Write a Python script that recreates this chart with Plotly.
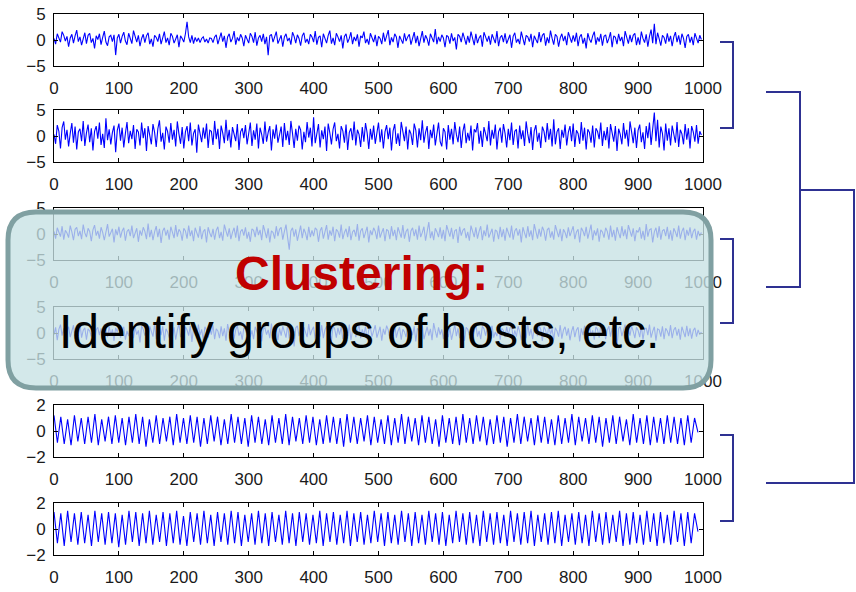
import plotly.graph_objects as go

# ---------------- data ----------------
noise_step = 2.5      # sample spacing of the noisy series
osc_step = 5.25       # spacing between extrema of the oscillating series

s1 = [0.3,-0.8,1.2,0.5,-0.4,1.6,0.9,-0.2,0.7,-1.3,0.4,1.1,-0.6,0.8,1.9,-0.3,0.6,-1.0,0.2,1.4,
      -0.7,0.9,1.3,-0.5,0.3,-1.6,0.8,0.1,1.2,-0.9,0.5,1.7,-0.4,-1.1,0.6,0.9,-0.3,1.0,-2.9,0.4,
      1.1,-0.6,0.7,1.5,-0.2,-0.9,1.3,0.4,-0.7,1.8,0.6,-0.4,0.9,-1.2,0.3,1.1,-0.5,0.8,1.4,-0.8,
      0.2,-1.3,0.9,0.5,-0.3,1.2,-0.8,0.6,1.6,-0.5,0.4,-1.0,1.3,0.7,-0.6,0.2,1.0,-1.4,0.8,0.3,
      -0.4,1.2,3.5,0.6,-0.5,0.9,-0.7,0.5,-0.3,0.4,-0.5,0.3,0.6,-0.4,0.2,-0.6,0.4,0.3,-0.5,0.6,
      1.0,-0.8,0.5,1.4,-0.3,0.8,-1.5,0.6,1.2,-0.4,0.3,1.7,-0.9,0.5,-0.2,1.1,0.4,-1.2,0.9,0.2,
      -0.6,1.3,0.7,-0.5,1.5,-1.1,0.4,0.9,-0.3,1.2,-0.8,0.6,-2.9,0.8,1.1,-0.4,0.5,1.6,-0.7,0.3,
      0.9,-1.3,0.6,1.2,-0.2,0.4,-0.9,1.5,0.7,-0.6,1.0,0.3,-1.1,0.8,1.4,-0.5,0.2,-0.8,1.1,0.6,
      -0.4,1.7,-0.9,0.5,0.8,-1.4,1.2,0.3,-0.6,0.9,1.8,-0.7,0.4,-1.0,1.3,0.6,-0.3,0.9,-1.6,0.7,
      1.2,-0.5,0.3,1.5,-0.8,0.6,-0.2,1.1,-1.3,0.8,0.4,1.6,-0.6,0.2,-0.9,1.3,0.5,-0.4,1.0,-1.2,
      0.7,0.3,-0.8,1.4,-0.3,0.9,1.9,-1.0,0.5,-0.4,1.2,0.6,-1.5,0.8,0.2,-0.7,1.3,-0.2,0.6,1.1,
      -0.9,0.4,1.5,-0.6,0.8,-1.2,0.3,1.7,-0.5,0.9,0.2,-1.1,1.2,0.5,-0.4,2.1,-0.8,0.6,-0.3,1.0,
      0.4,-1.4,0.9,0.6,-0.7,1.3,-0.2,0.5,-1.8,1.1,0.7,-0.4,1.4,0.3,-0.9,0.8,-0.5,1.6,0.2,-1.0,
      1.2,-0.6,0.4,0.9,-1.3,1.5,0.6,-0.3,0.8,-0.9,1.1,0.2,-0.6,1.7,-1.2,0.5,0.9,-0.4,1.3,-0.7,
      0.3,1.0,-1.5,0.7,1.4,-0.5,0.2,-0.8,1.6,0.4,-1.0,0.9,0.6,-0.3,1.2,-1.4,0.8,0.1,-0.6,1.5,
      -0.4,0.9,1.3,-1.1,0.5,-0.6,1.8,0.3,-0.9,1.1,0.7,-1.3,0.4,1.2,-0.2,0.8,-1.0,1.5,0.6,-0.5,
      0.9,-0.3,1.4,-1.2,0.6,1.1,-0.7,0.4,-1.6,1.3,0.2,-0.5,0.8,1.6,-0.9,0.5,-0.3,1.2,-1.1,0.7,
      1.0,-0.6,0.3,1.5,-1.4,0.8,0.5,-0.8,1.2,-0.2,0.6,-1.2,1.7,0.4,-0.7,1.0,-0.4,0.9,1.3,-1.0,
      0.5,-0.9,1.6,0.3,-0.5,1.1,-1.3,0.7,2.0,-0.6,3.1,-0.8,1.4,0.2,-1.1,0.9,0.5,-0.7,1.3,-0.3,
      0.8,-1.2,0.6,1.5,-0.4,0.9,-0.9,1.2,0.3,-1.5,0.7,1.1,-0.5,0.6,-1.0,1.3,0.4,-0.6,0.9,0.1]

s2 = [0.3,-1.5,2.1,0.9,-2.4,1.6,2.8,-0.7,1.2,-2.0,0.5,2.5,-1.3,1.8,-2.6,0.8,1.4,-1.0,2.9,-1.9,
      0.6,2.2,-1.2,1.5,-2.8,0.9,1.9,-0.5,2.6,-1.7,0.4,-2.3,3.4,-0.8,1.3,-1.6,0.7,2.0,-3.1,1.1,
      2.4,-0.9,1.6,-2.2,0.5,2.7,-1.4,1.0,-0.6,2.1,-2.5,1.3,0.8,-1.8,2.6,-0.4,1.5,-2.9,1.9,0.3,
      -1.6,2.3,0.7,-2.1,1.4,3.0,-1.1,0.6,-2.6,1.8,0.9,-1.3,2.5,-0.7,1.2,-2.0,2.8,0.4,-1.5,1.7,
      -2.4,0.8,1.9,-1.0,2.6,-1.8,0.5,1.3,-3.2,2.2,0.7,-1.2,1.6,-0.5,2.4,-2.3,1.1,0.9,-1.7,2.9,
      -0.6,1.4,-2.5,2.0,0.6,-1.4,3.1,-0.9,1.2,-2.2,1.7,0.4,-1.0,2.3,-2.7,0.8,1.5,-0.4,2.1,-1.6,
      0.9,2.6,-1.9,1.1,-0.7,2.4,-2.4,1.6,0.3,-1.5,2.8,-1.1,0.7,1.9,-2.8,1.3,-0.5,2.2,-1.3,0.6,
      1.8,-2.1,2.5,-0.8,1.0,-1.7,2.9,0.5,-2.3,1.4,-0.9,2.0,1.2,-2.6,0.8,-1.2,2.7,-0.3,1.6,-2.0,
      3.6,-1.4,0.9,2.3,-2.2,1.1,-0.6,1.8,-2.9,2.4,0.6,-1.6,1.3,2.6,-1.0,0.4,-2.4,1.9,1.0,-1.3,
      2.2,-2.7,0.7,1.5,-0.8,2.8,-1.8,1.2,0.3,-2.1,1.7,-1.1,2.5,0.6,-2.5,1.4,-0.7,2.0,-1.5,0.9,
      2.6,-1.2,1.3,-2.4,0.8,2.1,-0.6,1.6,-2.8,1.0,2.3,-1.5,0.5,-1.9,2.7,0.9,-1.0,1.8,-2.6,1.2,
      0.4,-1.7,2.4,1.1,-2.2,1.5,-0.8,3.0,-1.3,0.7,1.9,-2.5,1.2,-0.4,2.2,-1.8,0.6,2.6,-1.1,-2.0,
      1.5,0.8,-2.6,2.1,-0.7,1.4,-1.6,2.7,0.3,-1.2,1.8,-2.3,0.9,2.4,-1.4,0.6,-0.9,2.0,-2.8,1.3,
      0.7,2.5,-1.5,1.0,-2.1,1.7,0.4,-1.0,2.9,-1.8,1.2,-0.5,2.2,-2.6,0.8,1.6,-1.3,2.3,0.5,-2.2,
      1.4,-0.8,2.6,-1.7,0.9,1.3,-2.4,2.0,-0.6,1.1,-1.9,2.8,0.4,-1.4,1.7,-2.7,1.0,2.1,-1.1,0.6,
      -2.3,1.8,0.9,-1.2,2.5,-0.7,1.4,-2.0,3.2,-1.6,0.8,1.5,-2.5,1.2,-0.3,2.2,-1.8,0.7,1.9,-1.0,
      2.4,-2.1,1.1,0.5,-1.5,2.7,-0.9,1.6,-2.6,1.3,0.7,-1.3,2.0,-2.2,1.5,0.9,-0.6,2.6,-1.9,1.0,
      -0.8,1.7,-2.4,2.3,0.6,-1.1,1.9,-2.9,1.4,0.3,-1.6,2.5,-0.5,1.2,-2.0,2.8,0.8,-1.4,1.6,-2.3,
      1.1,2.2,-1.2,0.7,-2.5,1.9,-0.4,2.6,-1.7,1.3,4.5,-1.0,3.1,-2.2,1.8,0.5,-2.8,2.4,-0.9,1.5,
      -1.8,2.0,0.6,-1.3,2.7,-2.1,1.2,0.4,-1.6,2.3,-0.7,1.5,-2.4,1.9,0.8,-1.1,2.1,-1.5,0.9,0.2]

s3 = [0.5,-0.9,1.2,0.3,-0.5,1.5,-1.1,0.7,0.2,-0.7,1.6,0.4,-1.2,0.9,1.3,-0.4,0.6,-1.0,1.8,0.2,
      -0.6,1.1,0.5,-1.4,0.8,1.7,-0.3,0.6,-0.9,1.3,0.3,-1.2,0.7,1.9,-0.5,0.4,1.0,-1.6,0.9,-0.2,
      1.4,-0.7,0.6,1.2,-1.3,0.5,0.9,-0.4,1.6,-0.8,0.3,1.1,-1.5,0.7,-0.3,1.3,0.5,-1.0,2.0,-0.6,
      0.8,-1.2,0.4,1.5,-0.6,1.0,-1.7,0.6,1.2,-0.3,0.8,-1.1,1.4,0.2,-0.8,1.7,-0.5,0.9,0.4,-1.3,
      1.1,0.6,-0.9,1.6,-0.4,0.7,-1.4,1.2,0.3,-0.7,1.5,-1.0,0.5,0.9,-1.6,1.3,0.2,-0.6,1.0,-1.1,
      0.7,1.4,-0.8,0.4,-1.3,1.8,0.6,-0.5,1.1,-1.0,0.3,1.2,-0.7,1.6,-1.4,0.5,0.9,-0.3,1.3,-0.9,
      0.4,-1.5,1.0,0.7,-0.6,1.4,-0.2,0.8,-1.2,1.7,0.5,-0.8,1.1,-1.6,0.6,0.3,-0.9,1.5,-0.4,0.9,
      1.3,-1.1,0.5,1.8,-0.7,-3.0,0.6,1.2,-0.5,0.9,-1.3,0.4,1.6,-0.8,1.0,0.2,-1.2,1.4,-0.6,0.7,
      -0.4,1.2,0.8,-1.5,0.6,1.3,-0.9,0.4,1.7,-1.1,0.7,-0.3,1.4,-1.4,0.9,0.5,-0.7,1.8,-1.0,0.3,
      1.0,-0.6,1.5,-1.2,0.4,0.8,-0.5,1.9,-1.3,0.6,1.1,-0.8,0.3,1.4,-1.6,0.7,-0.2,1.2,0.5,-1.0,
      1.6,-0.7,0.3,1.1,-1.4,0.9,0.6,-1.0,1.5,-0.4,0.8,-1.2,1.3,0.2,-0.7,1.7,-0.9,0.5,1.0,-1.5,
      0.6,1.2,-0.4,0.9,-1.1,1.6,-0.6,0.3,1.4,-1.3,0.7,2.3,-0.8,0.5,-1.2,1.1,0.4,-0.6,1.3,-0.9,
      0.8,-1.4,1.7,0.3,-0.5,1.2,-1.0,0.6,0.9,-1.7,1.4,-0.3,0.7,1.1,-0.8,0.4,-1.3,1.6,0.2,-0.6,
      1.3,-0.9,0.5,1.5,-1.2,0.7,-0.4,1.8,-0.7,0.3,1.0,-1.5,0.8,0.5,-1.0,1.4,-0.6,0.9,-1.3,1.2,
      0.4,-0.7,1.6,-1.1,0.6,1.1,-0.3,0.9,-1.6,1.3,0.2,-0.8,1.5,-0.5,0.7,-1.2,1.9,0.3,-0.9,1.0,
      -0.5,1.4,0.6,-1.3,0.8,1.2,-0.7,0.5,-1.1,1.7,0.4,-0.6,1.0,-1.4,0.9,0.3,-0.8,1.3,-0.4,0.7,
      1.5,-1.0,0.4,0.9,-1.6,1.2,0.6,-0.4,1.4,-0.9,0.5,1.8,-1.2,0.7,-0.3,1.1,-1.5,0.8,0.4,-0.7,
      1.2,0.5,-1.1,1.6,-0.6,0.8,-1.3,1.3,0.2,-0.8,1.5,-0.4,0.9,-1.0,1.7,0.6,-0.5,1.1,-1.4,0.7,
      0.3,1.3,-0.9,0.6,-1.2,1.9,-0.5,0.8,1.0,-1.6,0.4,1.2,-0.7,1.5,-1.1,0.6,0.9,-0.4,1.4,-1.0,
      0.7,-1.3,1.1,0.4,-0.6,1.6,-0.9,0.5,1.2,-1.2,0.8,-0.3,1.3,-0.8,0.5,1.0,-1.1,0.6,-0.4,0.3]

s4 = [-0.3,1.1,-1.4,0.7,1.6,-0.5,0.9,-2.3,0.4,1.2,-0.8,0.6,1.5,-1.1,0.3,-0.6,1.8,-0.9,0.5,1.0,
      -1.3,0.8,0.4,-0.7,1.4,-1.6,0.6,1.1,-0.4,0.9,-1.2,1.7,0.3,-0.8,1.3,-0.5,0.7,-1.5,1.0,0.2,
      1.5,-0.9,0.6,1.2,-1.3,0.4,-0.6,1.6,0.8,-1.0,1.1,-0.3,0.5,-1.8,1.4,0.7,-0.5,0.9,-1.1,1.3,
      0.3,-0.7,1.7,-1.2,0.6,1.0,-0.4,1.3,-1.5,0.8,0.2,-0.9,1.5,-0.6,1.1,-1.3,0.5,1.8,-0.8,0.4,
      -1.1,1.2,0.6,-0.5,1.4,-1.7,0.9,0.3,-0.8,1.6,-0.4,0.7,-1.4,1.2,0.5,-0.9,1.0,-0.3,1.5,-1.2,
      0.8,0.4,-1.0,1.3,-0.6,0.9,-1.5,1.7,0.2,-0.7,1.1,-1.1,0.6,1.4,-0.5,0.3,-1.3,1.0,0.7,-0.4,
      1.6,-0.8,0.5,-1.2,1.2,0.4,-0.6,1.5,-1.6,0.8,1.0,-0.3,0.6,-1.0,1.8,-0.7,0.4,1.1,-1.4,0.9,
      -0.5,1.3,0.2,-0.9,1.6,-1.1,0.7,0.5,-2.6,1.0,1.4,-0.6,0.8,-1.2,1.1,0.3,-0.8,1.7,-0.4,0.6,
      1.2,-1.3,0.9,0.4,-0.7,1.5,-1.0,0.6,1.3,-0.5,0.2,-1.6,1.4,0.8,-0.9,1.0,-0.3,1.2,-1.2,0.5,
      0.9,-0.6,1.6,-1.4,0.5,1.1,-0.8,0.3,1.7,-1.0,0.7,-0.4,1.3,-1.3,0.6,1.0,-0.7,0.4,1.5,-0.9,
      0.3,1.2,-1.5,0.8,-0.3,1.4,0.6,-1.1,1.0,-0.6,1.8,-0.9,0.4,1.1,-1.3,0.7,0.2,-0.8,1.6,-1.0,
      0.6,-0.4,1.3,-1.6,0.9,0.5,-0.7,1.5,-1.2,0.3,1.2,-0.5,0.8,-1.4,1.9,0.4,-0.9,1.1,-0.3,0.7,
      -1.2,1.4,0.6,-0.8,1.0,-1.3,0.4,1.6,-0.6,0.9,-1.0,1.3,0.3,-1.5,1.1,0.7,-0.4,1.2,-1.1,0.5,
      1.7,-0.7,0.4,-1.2,1.3,0.8,-0.5,1.0,-1.6,0.6,1.4,-0.9,0.2,-0.6,1.5,-1.3,0.9,0.5,-0.8,1.2,
      -0.4,0.9,1.6,-1.1,0.5,-0.7,1.3,0.3,-1.4,1.1,0.6,-1.0,1.7,-0.5,0.8,-1.2,1.0,0.4,-0.6,1.4,
      0.7,-1.5,1.2,0.5,-0.9,1.6,-0.3,0.8,-1.3,1.0,0.4,-0.7,1.5,-1.1,0.6,1.2,-0.5,0.9,-1.4,0.3,
      1.3,-0.8,0.6,1.1,-1.6,0.9,-0.4,1.4,0.2,-1.0,1.7,-0.6,0.5,-1.3,1.2,0.7,-0.9,1.5,-0.3,0.8,
      -1.2,0.6,1.3,-0.7,1.0,-1.4,2.1,-2.7,0.9,1.2,-0.6,0.4,1.6,-1.1,0.7,-0.5,1.3,0.3,-1.0,1.1,
      0.5,-0.8,1.4,-1.3,0.7,1.0,-0.4,1.6,-0.9,0.3,1.2,-1.5,0.8,0.6,-0.7,1.3,-1.2,0.9,0.4,-0.6,
      1.5,-1.0,0.6,1.1,-0.5,0.8,-1.3,1.2,0.3,-0.8,1.4,-0.6,0.9,-1.1,0.5,1.0,-0.7,0.6,-0.3,0.2]

s5 = [1.2,-0.9,1.1,-1.0,0.9,-1.1,1.2,-0.8,1.0,-1.0,1.1,-0.9,1.3,-1.1,0.9,-0.8,1.1,-1.0,1.2,-0.9,
      1.0,-1.1,1.1,-0.9,1.3,-1.0,1.1,-1.2,0.9,-0.9,1.2,-1.0,1.0,-0.8,1.1,-1.1,1.3,-0.9,1.0,-1.0,
      1.2,-0.9,1.1,-1.2,1.0,-1.0,1.2,-0.8,1.1,-1.1,0.9,-1.0,1.3,-0.9,1.1,-1.0,1.0,-1.2,1.2,-0.9,
      1.1,-1.0,0.9,-1.1,1.2,-0.9,1.0,-1.0,1.3,-1.1,1.1,-0.8,1.0,-1.0,1.2,-0.9,1.1,-1.1,0.9,-1.0,
      1.2,-0.9,1.1,-1.0,1.0,-1.2,1.3,-0.9,1.1,-1.0,1.0,-0.8,1.2,-1.1,1.1,-0.9,0.9,-1.0,1.2,-1.1,
      1.0,-0.9,1.3,-1.0,1.1,-0.8,1.0,-1.1,1.2,-0.9,1.1,-1.0,0.9,-1.2,1.2,-0.9,1.0,-1.0,1.1,-1.1,
      1.3,-0.9,1.0,-1.0,1.2,-0.8,1.1,-1.1,0.9,-1.0,1.2,-0.9,1.1,-1.2,1.0,-0.9,1.3,-1.0,1.1,-0.8,
      1.0,-1.1,1.2,-0.9,1.1,-1.0,0.9,-1.1,1.2,-1.0,1.0,-0.9,1.3,-1.1,1.1,-0.8,1.0,-1.0,1.2,-0.9,
      1.1,-1.2,1.0,-0.9,1.2,-1.0,1.1,-0.8,0.9,-1.1,1.3,-0.9,1.0,-1.0,1.2,-1.1,1.1,-0.9,1.0,-1.0,
      1.2,-0.9,1.1,-1.0,1.0,-1.1,1.2,-0.9,1.0,-0.1]

s6 = [1.3,-1.1,1.2,-1.3,1.4,-1.0,1.2,-1.2,1.3,-1.1,1.1,-1.3,1.4,-1.0,1.2,-1.2,1.3,-1.1,1.2,-1.4,
      1.1,-1.2,1.4,-1.0,1.3,-1.3,1.2,-1.1,1.4,-1.2,1.1,-1.0,1.3,-1.3,1.2,-1.1,1.4,-1.2,1.0,-1.3,
      1.3,-1.0,1.2,-1.2,1.4,-1.1,1.1,-1.3,1.3,-1.0,1.2,-1.2,1.4,-1.1,1.3,-1.3,1.1,-1.0,1.2,-1.2,
      1.4,-1.1,1.2,-1.3,1.3,-1.0,1.1,-1.2,1.4,-1.1,1.2,-1.3,1.3,-1.0,1.2,-1.2,1.1,-1.1,1.4,-1.3,
      1.2,-1.0,1.3,-1.2,1.1,-1.1,1.4,-1.3,1.2,-1.0,1.3,-1.2,1.1,-1.1,1.4,-1.0,1.2,-1.3,1.3,-1.1,
      1.1,-1.2,1.4,-1.0,1.2,-1.3,1.3,-1.1,1.1,-1.2,1.4,-1.0,1.2,-1.2,1.3,-1.3,1.1,-1.1,1.4,-1.0,
      1.2,-1.2,1.3,-1.1,1.1,-1.3,1.4,-1.0,1.2,-1.2,1.3,-1.1,1.1,-1.3,1.4,-1.0,1.2,-1.2,1.3,-1.1,
      1.4,-1.3,1.1,-1.0,1.2,-1.2,1.3,-1.1,1.4,-1.3,1.1,-1.0,1.2,-1.2,1.3,-1.1,1.1,-1.3,1.4,-1.0,
      1.2,-1.2,1.3,-1.1,1.1,-1.0,1.4,-1.3,1.2,-1.2,1.3,-1.1,1.1,-1.2,1.4,-1.0,1.2,-1.3,1.3,-1.1,
      1.1,-1.2,1.4,-1.0,1.2,-1.3,1.3,-1.1,1.2,-0.2]

x_ticks = [0, 100, 200, 300, 400, 500, 600, 700, 800, 900, 1000]
noise_yticks = [-5, 0, 5]
osc_yticks = [-2, 0, 2]
title_text = "Clustering:"
body_text = "Identify groups of hosts, etc."

series = [(s1, noise_step, noise_yticks), (s2, noise_step, noise_yticks),
          (s3, noise_step, noise_yticks), (s4, noise_step, noise_yticks),
          (s5, osc_step, osc_yticks), (s6, osc_step, osc_yticks)]

# ---------------- layout helpers (pixel geometry) ----------------
W, H = 856, 592
def px(x):
    return x / W
def py(y):
    return 1 - y / H

panel_left, panel_right = 54, 703
panel_tops = [14, 110, 208, 307, 405, 503]
panel_h = 52

fig = go.Figure()
font = dict(family="Arial, Liberation Sans, sans-serif", size=17, color="#1a1a1a")

for i, (vals, step, yt) in enumerate(series):
    n = i + 1
    xs = [k * step for k in range(len(vals))]
    fig.add_trace(go.Scatter(x=xs, y=vals, mode="lines",
                             line=dict(color="#0000ff", width=1.1),
                             xaxis=f"x{n}", yaxis=f"y{n}", showlegend=False,
                             hoverinfo="skip"))
    top = panel_tops[i]
    axis_common = dict(showline=True, linecolor="black", linewidth=1, mirror="allticks",
                       ticks="inside", ticklen=4, tickcolor="black", showgrid=False,
                       zeroline=False, tickfont=font, automargin=False,
                       ticklabeloverflow="allow")
    fig.layout[f"xaxis{n}"] = dict(domain=[px(panel_left), px(panel_right)],
                                   range=[0, 1000], tickvals=x_ticks,
                                   anchor=f"y{n}", ticklabelstandoff=7, **axis_common)
    fig.layout[f"yaxis{n}"] = dict(domain=[py(top + panel_h), py(top)],
                                   range=[yt[0], yt[-1]], tickvals=yt,
                                   anchor=f"x{n}", ticklabelstandoff=4, **axis_common)

shapes = []
bracket_color = "#2e3192"
def seg_path(points):
    d = "M " + " L ".join(f"{px(x)},{py(y)}" for x, y in points)
    return dict(type="path", path=d, xref="paper", yref="paper",
                line=dict(color=bracket_color, width=2), layer="above")

shapes.append(seg_path([(720, 42), (733, 42), (733, 128), (720, 128)]))
shapes.append(seg_path([(720, 239), (733, 239), (733, 323), (720, 323)]))
shapes.append(seg_path([(720, 435), (733, 435), (733, 521), (720, 521)]))
shapes.append(seg_path([(766, 92), (800, 92), (800, 287), (766, 287)]))
shapes.append(seg_path([(800, 190), (854, 190), (854, 483), (766, 483)]))

# rounded call-out box
bx0, by0, bx1, by1, r = 8, 212, 711, 388, 28
box = (f"M {px(bx0 + r)},{py(by0)} L {px(bx1 - r)},{py(by0)} "
       f"Q {px(bx1)},{py(by0)} {px(bx1)},{py(by0 + r)} "
       f"L {px(bx1)},{py(by1 - r)} Q {px(bx1)},{py(by1)} {px(bx1 - r)},{py(by1)} "
       f"L {px(bx0 + r)},{py(by1)} Q {px(bx0)},{py(by1)} {px(bx0)},{py(by1 - r)} "
       f"L {px(bx0)},{py(by0 + r)} Q {px(bx0)},{py(by0)} {px(bx0 + r)},{py(by0)} Z")
shapes.append(dict(type="path", path=box, xref="paper", yref="paper",
                   fillcolor="rgba(198,226,228,0.78)",
                   line=dict(color="#80a0a2", width=5), layer="above"))

annotations = [
    dict(text=f"<b>{title_text}</b>", x=px(361), y=py(273), xref="paper", yref="paper",
         showarrow=False, xanchor="center", yanchor="middle",
         font=dict(family="Arial, Liberation Sans, sans-serif", size=48, color="#c00000")),
    dict(text=body_text, x=px(359), y=py(331), xref="paper", yref="paper",
         showarrow=False, xanchor="center", yanchor="middle",
         font=dict(family="Arial, Liberation Sans, sans-serif", size=48, color="black")),
]

fig.update_layout(width=W, height=H,
                  margin=dict(l=0, r=0, t=0, b=0, pad=0, autoexpand=False),
                  paper_bgcolor="white", plot_bgcolor="white",
                  shapes=shapes, annotations=annotations)

# page body margin removed so the 856x592 figure fills the window exactly
fig.write_html("out.html", config={"displayModeBar": False},
               post_script="document.body.style.margin='0';document.body.style.overflow='hidden';")
